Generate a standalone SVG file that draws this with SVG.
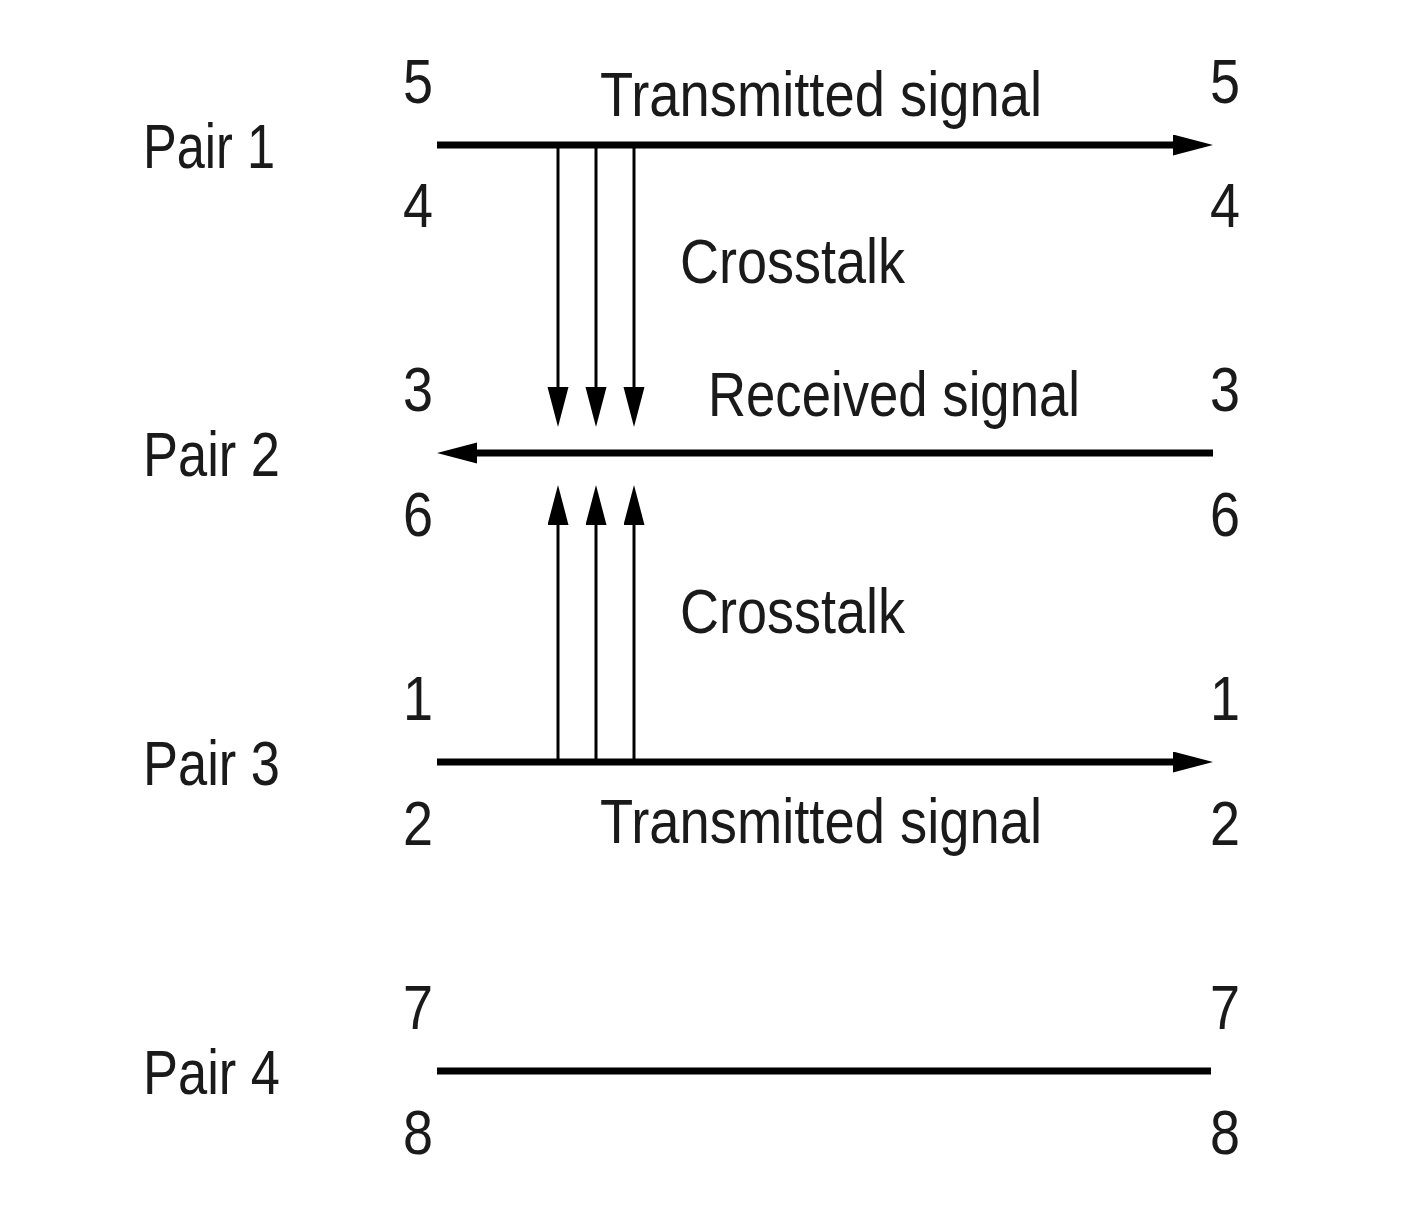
<svg xmlns="http://www.w3.org/2000/svg" width="1406" height="1206" viewBox="0 0 1406 1206">
<style>
text{font-family:"Liberation Sans",Arial,sans-serif;font-size:63px;fill:#1a1a1a;}
.main{stroke:#000;stroke-width:7;fill:none;}
.thin{stroke:#000;stroke-width:3;fill:none;}
</style>
<defs>
<marker id="ah" markerUnits="userSpaceOnUse" markerWidth="42" markerHeight="22" refX="2" refY="10.5" orient="auto" viewBox="0 0 42 22">
<path d="M0,0 L40,10.5 L0,21 Z" fill="#000"/>
</marker>
</defs>
<rect width="1406" height="1206" fill="#fff"/>
<g id="labels">
<text x="143" y="168" textLength="132" lengthAdjust="spacingAndGlyphs">Pair 1</text>
<text x="143" y="476" textLength="137" lengthAdjust="spacingAndGlyphs">Pair 2</text>
<text x="143" y="785" textLength="137" lengthAdjust="spacingAndGlyphs">Pair 3</text>
<text x="143" y="1094" textLength="137" lengthAdjust="spacingAndGlyphs">Pair 4</text>
</g>
<g id="pins-left">
<text x="403" y="103" textLength="30" lengthAdjust="spacingAndGlyphs">5</text>
<text x="403" y="227" textLength="30" lengthAdjust="spacingAndGlyphs">4</text>
<text x="403" y="411" textLength="30" lengthAdjust="spacingAndGlyphs">3</text>
<text x="403" y="536" textLength="30" lengthAdjust="spacingAndGlyphs">6</text>
<text x="403" y="720" textLength="30" lengthAdjust="spacingAndGlyphs">1</text>
<text x="403" y="845" textLength="30" lengthAdjust="spacingAndGlyphs">2</text>
<text x="403" y="1029" textLength="30" lengthAdjust="spacingAndGlyphs">7</text>
<text x="403" y="1154" textLength="30" lengthAdjust="spacingAndGlyphs">8</text>
</g>
<g id="pins-right">
<text x="1210" y="103" textLength="30" lengthAdjust="spacingAndGlyphs">5</text>
<text x="1210" y="227" textLength="30" lengthAdjust="spacingAndGlyphs">4</text>
<text x="1210" y="411" textLength="30" lengthAdjust="spacingAndGlyphs">3</text>
<text x="1210" y="536" textLength="30" lengthAdjust="spacingAndGlyphs">6</text>
<text x="1210" y="720" textLength="30" lengthAdjust="spacingAndGlyphs">1</text>
<text x="1210" y="845" textLength="30" lengthAdjust="spacingAndGlyphs">2</text>
<text x="1210" y="1029" textLength="30" lengthAdjust="spacingAndGlyphs">7</text>
<text x="1210" y="1154" textLength="30" lengthAdjust="spacingAndGlyphs">8</text>
</g>
<g id="signal-labels">
<text x="600" y="116" textLength="442" lengthAdjust="spacingAndGlyphs">Transmitted signal</text>
<text x="680" y="283" textLength="225" lengthAdjust="spacingAndGlyphs">Crosstalk</text>
<text x="708" y="416" textLength="372" lengthAdjust="spacingAndGlyphs">Received signal</text>
<text x="680" y="633" textLength="225" lengthAdjust="spacingAndGlyphs">Crosstalk</text>
<text x="600" y="843" textLength="442" lengthAdjust="spacingAndGlyphs">Transmitted signal</text>
</g>
<g id="connectors">
<line class="main" x1="437" y1="145" x2="1175" y2="145" marker-end="url(#ah)"/>
<line class="main" x1="1213" y1="453" x2="475" y2="453" marker-end="url(#ah)"/>
<line class="main" x1="437" y1="762" x2="1175" y2="762" marker-end="url(#ah)"/>
<line class="main" x1="437" y1="1071" x2="1211" y2="1071"/>
<line class="thin" x1="558" y1="148" x2="558" y2="389" marker-end="url(#ah)"/>
<line class="thin" x1="596" y1="148" x2="596" y2="389" marker-end="url(#ah)"/>
<line class="thin" x1="634" y1="148" x2="634" y2="389" marker-end="url(#ah)"/>
<line class="thin" x1="558" y1="760" x2="558" y2="523" marker-end="url(#ah)"/>
<line class="thin" x1="596" y1="760" x2="596" y2="523" marker-end="url(#ah)"/>
<line class="thin" x1="634" y1="760" x2="634" y2="523" marker-end="url(#ah)"/>
</g>
</svg>
